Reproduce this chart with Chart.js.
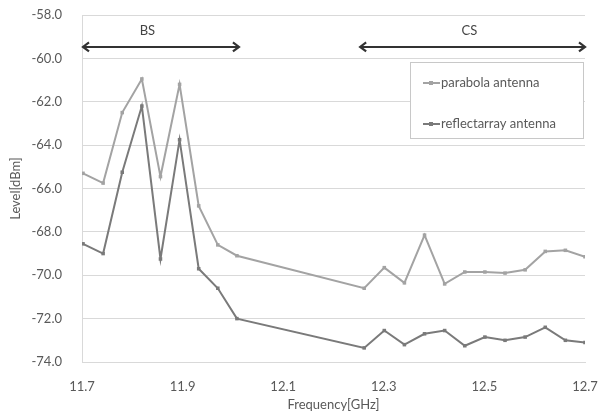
<!DOCTYPE html>
<html>
<head>
<meta charset="utf-8">
<script src="https://cdn.jsdelivr.net/npm/chart.js@4.4.0/dist/chart.umd.min.js"></script>
<style>
  html, body { margin: 0; padding: 0; background: #fff; }
  #wrap { width: 606px; height: 416px; }
</style>
</head>
<body>
<div id="wrap"><canvas id="graphCanvas" width="606" height="416"></canvas></div>
<script>
// frequencies [GHz] of the measured channels
var bs_freq = [11.702, 11.742, 11.780, 11.819, 11.856, 11.894, 11.932, 11.970, 12.008];
var cs_freq = [12.261, 12.301, 12.341, 12.381, 12.421, 12.461, 12.501, 12.541, 12.581, 12.621, 12.661, 12.700];

// levels [dBm]
var parabola_bs = [-65.3, -65.75, -62.5, -60.95, -65.45, -61.2, -66.8, -68.6, -69.1];
var parabola_cs = [-70.6, -69.65, -70.35, -68.15, -70.4, -69.85, -69.85, -69.9, -69.75, -68.9, -68.85, -69.15];
var reflect_bs = [-68.55, -69.0, -65.25, -62.2, -69.25, -63.75, -69.7, -70.6, -72.0];
var reflect_cs = [-73.35, -72.55, -73.2, -72.7, -72.55, -73.25, -72.85, -73.0, -72.85, -72.4, -73.0, -73.1];

var x_ticks = [11.7, 11.9, 12.1, 12.3, 12.5, 12.7];
var series_names = ["parabola antenna", "reflectarray antenna"];
var series_colors = ["#a3a3a3", "#7a7a7a"];

function to_points(xx, yy) {
  var pts = [];
  for (var ii = 0; ii < xx.length; ii++) {
    pts.push({x: xx[ii], y: yy[ii]});
  }
  return pts;
}

var parabola = to_points(bs_freq.concat(cs_freq), parabola_bs.concat(parabola_cs));
var reflect = to_points(bs_freq.concat(cs_freq), reflect_bs.concat(reflect_cs));

var fontFam = "Lato, 'Open Sans', sans-serif";
var textCol = "#595959";

function draw_arrow(ctx, x1, x2, y) {
  ctx.save();
  ctx.strokeStyle = "#333";
  ctx.lineWidth = 2;
  ctx.beginPath();
  ctx.moveTo(x1, y);
  ctx.lineTo(x2, y);
  ctx.stroke();
  ctx.lineWidth = 2.2;
  ctx.beginPath();
  ctx.moveTo(x1 + 6, y - 4.5);
  ctx.lineTo(x1, y);
  ctx.lineTo(x1 + 6, y + 4.5);
  ctx.moveTo(x2 - 6, y - 4.5);
  ctx.lineTo(x2, y);
  ctx.lineTo(x2 - 6, y + 4.5);
  ctx.stroke();
  ctx.restore();
}

var extras = {
  id: 'extras',
  afterDatasetsDraw: function(chart) {
    var ctx = chart.ctx;
    var xs = chart.scales.x, ys = chart.scales.y;
    var ya = ys.getPixelForValue(-59.47);
    draw_arrow(ctx, xs.getPixelForValue(11.702), xs.getPixelForValue(12.012), ya);
    draw_arrow(ctx, xs.getPixelForValue(12.253), xs.getPixelForValue(12.7), ya);
    ctx.save();
    ctx.fillStyle = "#444";
    ctx.font = "13px " + fontFam;
    ctx.textAlign = "center";
    ctx.textBaseline = "middle";
    ctx.fillText("BS", xs.getPixelForValue(11.83), ys.getPixelForValue(-58.75));
    ctx.fillText("CS", xs.getPixelForValue(12.47), ys.getPixelForValue(-58.75));

    // legend box
    ctx.fillStyle = "#fff";
    ctx.fillRect(410, 62, 173, 76);
    ctx.strokeStyle = "#c8c8c8";
    ctx.lineWidth = 1;
    ctx.strokeRect(410.5, 62.5, 173, 76);
    var rows = [83, 124];
    for (var ii = 0; ii < 2; ii++) {
      var yy = rows[ii];
      ctx.strokeStyle = series_colors[ii];
      ctx.lineWidth = 2;
      ctx.beginPath();
      ctx.moveTo(423, yy);
      ctx.lineTo(440, yy);
      ctx.stroke();
      ctx.fillStyle = series_colors[ii];
      ctx.fillRect(429, yy - 2, 4, 4);
      ctx.fillStyle = textCol;
      ctx.textAlign = "left";
      ctx.font = "13px " + fontFam;
      ctx.fillText(series_names[ii], 441, yy);
    }
    ctx.restore();
  }
};

function make_ds(label, pts, col) {
  return {
    label: label,
    data: pts,
    borderColor: col,
    backgroundColor: col,
    borderWidth: 2,
    pointStyle: 'rect',
    pointRadius: 2.5,
    pointBorderWidth: 0,
    tension: 0
  };
}

var graphTarget = document.getElementById("graphCanvas");
var lineGraph = new Chart(graphTarget, {
  type: 'line',
  data: {
    datasets: [
      make_ds(series_names[0], parabola, series_colors[0]),
      make_ds(series_names[1], reflect, series_colors[1])
    ]
  },
  options: {
    responsive: false,
    animation: false,
    layout: { padding: { top: 15, right: 21, left: 0, bottom: 0 } },
    plugins: { legend: { display: false }, tooltip: { enabled: false } },
    scales: {
      x: {
        type: 'linear',
        min: 11.7,
        max: 12.7,
        afterBuildTicks: function(scale) {
          scale.ticks = x_ticks.map(function(v) { return {value: v}; });
        },
        afterFit: function(scale) { scale.height = 54; scale.paddingLeft = 0; scale.paddingRight = 0; },
        grid: { display: false, drawTicks: false },
        border: { display: true, color: "#d9d9d9" },
        ticks: {
          padding: 17,
          color: textCol,
          font: { family: fontFam, size: 13 },
          callback: function(v) { return v.toFixed(1); }
        },
        title: {
          display: true,
          text: "Frequency[GHz]",
          color: textCol,
          font: { family: fontFam, size: 13 },
          padding: { top: 2, bottom: 3 }
        }
      },
      y: {
        min: -74,
        max: -58,
        afterFit: function(scale) { scale.width = 82; scale.paddingTop = 0; scale.paddingBottom = 0; },
        grid: { color: "#d9d9d9", drawTicks: false },
        border: { display: true, color: "#d9d9d9" },
        ticks: {
          stepSize: 2,
          padding: 20,
          color: textCol,
          font: { family: fontFam, size: 13 },
          callback: function(v) { return v.toFixed(1); }
        },
        title: {
          display: true,
          text: "Level[dBm]",
          color: textCol,
          font: { family: fontFam, size: 13 },
          padding: { top: 8, bottom: 0 }
        }
      }
    }
  },
  plugins: [extras]
});
</script>
</body>
</html>
